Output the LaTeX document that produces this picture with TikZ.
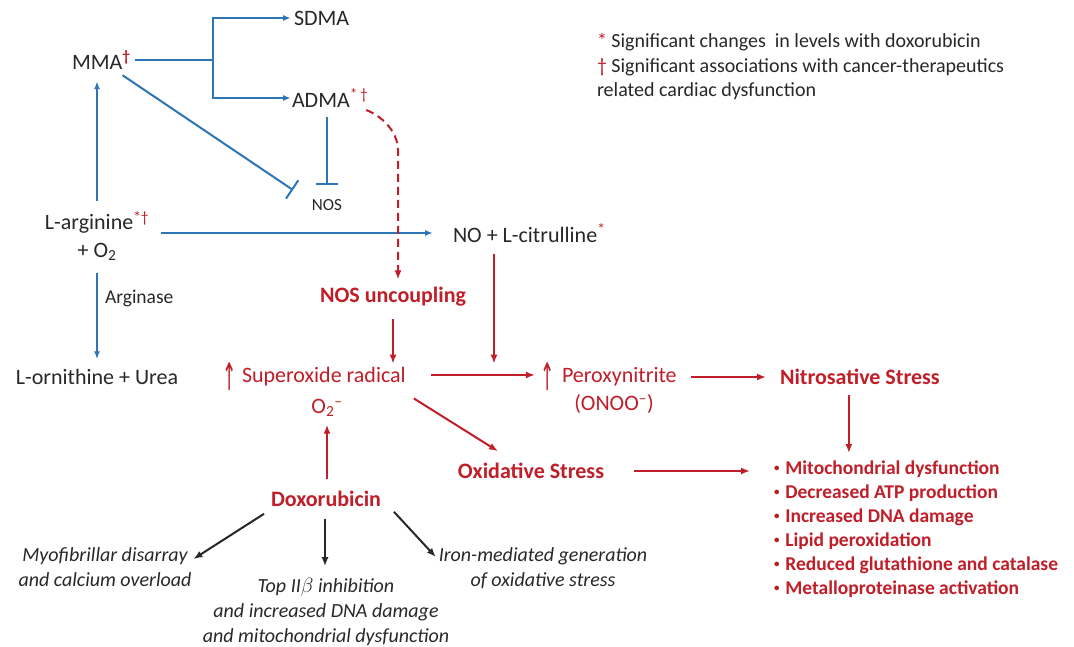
\documentclass[tikz,border=0pt]{standalone}
\usepackage{fontspec}
\setmainfont{Carlito}
\newfontfamily\symfont{DejaVu Sans}
\usetikzlibrary{arrows.meta,calc}
\definecolor{cblue}{RGB}{46,117,182}
\definecolor{cred}{RGB}{192,30,40}
\definecolor{ctext}{RGB}{40,40,40}
\newcommand{\smbul}{\raisebox{0.18em}{\fontsize{11}{11}\selectfont•}\hspace{0.3em}}
\begin{document}
\begin{tikzpicture}[x=1pt,y=-1pt,
  every node/.style={inner sep=0pt,outer sep=0pt,text=ctext},
  lbl/.style={font=\fontsize{22}{28}\selectfont},
  rlbl/.style={font=\fontsize{22}{28}\selectfont,text=cred},
  rbold/.style={font=\fontsize{22}{28}\selectfont\bfseries,text=cred},
  small/.style={font=\fontsize{19.5}{24.5}\selectfont},
  legendfont/.style={font=\fontsize{20}{24.5}\selectfont},
  itl/.style={font=\fontsize{20}{25}\selectfont\itshape,align=center},
  bline/.style={draw=cblue,line width=2pt},
  barrow/.style={bline,-{Latex[length=8pt,width=6pt]}},
  binh/.style={bline,-{Bar[width=22pt,line width=2pt]}},
  rarrow/.style={draw=cred,line width=2pt,-{Latex[length=9pt,width=7pt]}},
  rdash/.style={rarrow,dash pattern=on 8pt off 5pt},
  karrow/.style={draw=ctext,line width=2pt,-{Latex[length=9pt,width=7pt]}},
  upglyph/.style={text=cred,font=\fontsize{38}{38}\symfont},
]
\useasboundingbox[fill=white] (0,0) rectangle (1074,646);

% nodes
\node[lbl,anchor=west] (mma) at (72,60) {MMA\textsuperscript{\textcolor{cred}{\textbf{†}}}};
\node[lbl,anchor=west] (sdma) at (294,18) {SDMA};
\node[lbl,anchor=west] (adma) at (292,98) {ADMA\textsuperscript{\textcolor{cred}{*\,†}}};
\node[font=\fontsize{17}{20}\selectfont] (nos) at (327,205) {NOS};
\node[lbl,align=center] (larg) at (97,236) {L-arginine\textsuperscript{\textcolor{cred}{*†}}\\+ O\textsubscript{2}};
\node[lbl,anchor=west] (no) at (453,233) {NO + L-citrulline\textsuperscript{\textcolor{cred}{*}}};
\node[small,anchor=west] (argn) at (105,298) {Arginase};
\node[lbl] (lorn) at (97,377) {L-ornithine + Urea};
\node[rbold] (nosunc) at (393,297) {NOS uncoupling};
\node[rlbl,anchor=west] (sup) at (242,377) {Superoxide radical};
\node[upglyph] (supup) at (230,377) {\scalebox{0.45}[1]{↑}};
\node[rlbl] (o2) at (327,408) {O\textsubscript{2}\textsuperscript{–}};
\node[rlbl,anchor=west] (perox) at (562,377) {Peroxynitrite};
\node[upglyph] (perup) at (548,377) {\scalebox{0.45}[1]{↑}};
\node[rlbl] (onoo) at (614,404) {(ONOO\textsuperscript{–})};
\node[rbold,anchor=west] (nitro) at (780,377) {Nitrosative Stress};
\node[rbold] (oxid) at (531,471) {Oxidative Stress};
\node[rbold] (dox) at (326,499) {Doxorubicin};
\node[anchor=north west,font=\fontsize{19.5}{24}\selectfont\bfseries,text=cred,align=left] (list) at (774,461)
  {\smbul Mitochondrial dysfunction\\\smbul Decreased ATP production\\\smbul Increased DNA damage\\\smbul Lipid peroxidation\\\smbul Reduced glutathione and catalase\\\smbul Metalloproteinase activation};
\node[itl] (myo) at (105,567) {Myofibrillar disarray\\and calcium overload};
\node[itl] (top) at (326,612) {Top II$\beta$ inhibition\\and increased DNA damage\\and mitochondrial dysfunction};
\node[itl] (iron) at (543,568) {Iron-mediated generation\\of oxidative stress};
\node[legendfont,anchor=west,align=left] (legend) at (597,67)
  {\textcolor{cred}{*} Significant changes\ \ in levels with doxorubicin\\\textcolor{cred}{†} Significant associations with cancer-therapeutics\\related cardiac dysfunction};

% blue connectors
\coordinate (jn) at (213,60);
\draw[bline] ($(mma.east)+(4,0)$) -- (jn);
\draw[barrow] (jn) |- ($(sdma.west)+(-3,0)$);
\draw[barrow] (jn) |- ($(adma.west)+(-1,0)$);
\draw[binh] ($(nos.north |- adma.south)+(0,10)$) -- ($(nos.north)+(0,-14)$);
\coordinate (mmanos) at (293,190);
\draw[binh] ($(mma.south east)+(-8,6)$) -- (mmanos);
\draw[barrow] ($(larg.north)+(0,-10)$) -- ($(mma.south -| larg.north)+(0,12)$);
\draw[barrow] ($(larg.east |- no.west)+(12,0)$) -- ($(no.west)+(-20,0)$);
\draw[barrow] ($(larg.south)+(0,12)$) -- ($(lorn.north -| larg.south)+(0,-10)$);

% red dashed
\coordinate (dtop) at (398,150);
\draw[rdash] ($(adma.east)+(-2,12)$) .. controls ($(adma.east)+(18,20)$) and ($(dtop)+(0,-15)$) .. (dtop) -- ($(nosunc.north -| dtop)+(0,-8)$);

% red connectors
\draw[rarrow] ($(nosunc.south)+(0,12)$) -- ($(nosunc.south |- sup.north)+(0,-4)$);
\draw[rarrow] ($(no.south west)+(41,12)$) -- ($(no.south west |- sup.north)+(41,-4)$);
\draw[rarrow] ($(sup.east)+(25,-2)$) -- ($(perup.west)+(-6,-2)$);
\draw[rarrow] ($(perox.east)+(14,0)$) -- ($(nitro.west |- perox.east)+(-14,0)$);
\draw[rarrow] ($(nitro.south)+(-11,10)$) -- ($(list.north -| nitro.south)+(-11,-8)$);
\draw[rarrow] ($(sup.south east)+(8,12)$) -- ($(oxid.north west)+(40,-12)$);
\draw[rarrow] ($(oxid.east)+(30,0)$) -- ($(list.west |- oxid.east)+(-24,0)$);
\draw[rarrow] ($(dox.north)+(1,-12)$) -- ($(o2.south -| dox.north)+(1,8)$);

% black connectors
\draw[karrow] ($(dox.south west)+(-7,7)$) -- ($(myo.east)+(2,-8)$);
\draw[karrow] ($(dox.south)+(-1,12)$) -- ($(top.north)+(-1,-12)$);
\draw[karrow] ($(dox.south east)+(13,5)$) -- ($(iron.west)+(-3,-11)$);
\end{tikzpicture}
\end{document}
